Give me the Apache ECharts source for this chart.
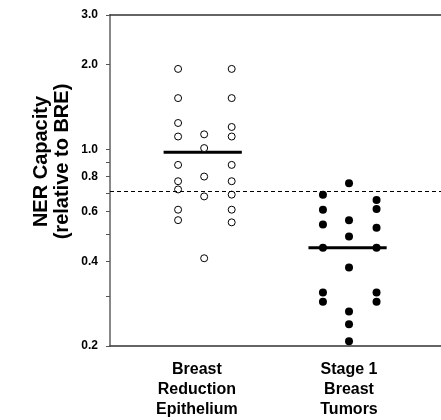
<!DOCTYPE html>
<html>
<head>
<meta charset="utf-8">
<script src="https://cdn.jsdelivr.net/npm/echarts@6/dist/echarts.min.js"></script>
<style>
  html, body { margin: 0; padding: 0; background: #fff; }
  #main { width: 441px; height: 420px; }
</style>
</head>
<body>
<div id="main"></div>
<script>
// group names (x axis)
var groups = ['Breast\nReduction\nEpithelium', 'Stage 1\nBreast\nTumors'];
var groupLabelPos = [0.95, 2.0];

// NER capacity values, read column by column
var breLeft  = [1.93, 1.52, 1.24, 1.11, 0.88, 0.77, 0.72, 0.61, 0.56];
var breMid   = [1.13, 1.01, 0.80, 0.68, 0.41];
var breRight = [1.93, 1.52, 1.20, 1.11, 0.88, 0.77, 0.69, 0.61, 0.55];

var tumLeft  = [0.69, 0.61, 0.54, 0.447, 0.31, 0.287];
var tumMid   = [0.757, 0.559, 0.49, 0.38, 0.265, 0.239, 0.208];
var tumRight = [0.661, 0.614, 0.526, 0.447, 0.31, 0.287];

var medians = [0.977, 0.447];
var cutoff = 0.71;

// y ticks
var yLabels = [0.2, 0.4, 0.6, 0.8, 1.0, 2.0, 3.0];
var yTicks = [0.2, 0.3, 0.4, 0.5, 0.6, 0.7, 0.8, 0.9, 1.0, 2.0, 3.0];

// column offsets around each group centre
var colOffset = [-0.18, 0, 0.19];

function pts(center, offset, vals) {
  return vals.map(function (v) { return [center + offset, v]; });
}

var openStyle = { color: '#fff', borderColor: '#000', borderWidth: 1, opacity: 1 };
var fillStyle = { color: '#000', opacity: 1 };

var myChart = echarts.init(document.getElementById('main'));

var option = {
  animation: false,
  grid: { left: 110, right: 0, top: 15, bottom: 73 },
  xAxis: [
    {
      type: 'value',
      min: 0.35,
      max: 2.635,
      splitLine: { show: false },
      axisLine: { show: true, lineStyle: { color: '#333', width: 1.5 } },
      axisTick: { show: false },
      axisLabel: {
        customValues: groupLabelPos,
        margin: 14,
        fontFamily: 'Liberation Sans',
        fontWeight: 'bold',
        fontSize: 16,
        lineHeight: 20,
        color: '#000',
        formatter: function (v) {
          return v < 1.5 ? groups[0] : groups[1];
        }
      }
    },
    {
      type: 'value',
      position: 'top',
      min: 0.35,
      max: 2.635,
      splitLine: { show: false },
      axisLine: { show: true, onZero: false, lineStyle: { color: '#333', width: 1.5 } },
      axisTick: { show: false },
      axisLabel: { show: false }
    }
  ],
  yAxis: {
    type: 'log',
    min: 0.2,
    max: 3,
    splitLine: { show: false },
    axisLine: { show: true, lineStyle: { color: '#888', width: 2 } },
    axisTick: { show: true, inside: false, length: 4, customValues: yTicks, lineStyle: { color: '#555' } },
    axisLabel: {
      customValues: yLabels,
      margin: 12,
      fontFamily: 'Liberation Sans',
      fontWeight: 'bold',
      fontSize: 12,
      color: '#000',
      formatter: function (v) { return Number(v).toFixed(1); }
    },
    name: 'NER Capacity\n(relative to BRE)',
    nameLocation: 'middle',
    nameGap: 37,
    nameMoveOverlap: false,
    nameTextStyle: {
      fontFamily: 'Liberation Sans',
      fontWeight: 'bold',
      fontSize: 20,
      lineHeight: 21,
      color: '#000',
      padding: [0, 0, 0, 38]
    }
  },
  series: [
    { type: 'scatter', symbolSize: 7, itemStyle: openStyle, data: pts(1, colOffset[0], breLeft) },
    { type: 'scatter', symbolSize: 7, itemStyle: openStyle, data: pts(1, colOffset[1], breMid) },
    { type: 'scatter', symbolSize: 7, itemStyle: openStyle, data: pts(1, colOffset[2], breRight) },
    { type: 'scatter', symbolSize: 8, itemStyle: fillStyle, data: pts(2, colOffset[0], tumLeft) },
    { type: 'scatter', symbolSize: 8, itemStyle: fillStyle, data: pts(2, colOffset[1], tumMid) },
    { type: 'scatter', symbolSize: 8, itemStyle: fillStyle, data: pts(2, colOffset[2], tumRight) },
    // median bars
    {
      type: 'line', showSymbol: false, z: 1,
      lineStyle: { color: '#000', width: 3 },
      data: [[1 - 0.28, medians[0]], [1 + 0.26, medians[0]]]
    },
    {
      type: 'line', showSymbol: false, z: 1,
      lineStyle: { color: '#000', width: 3 },
      data: [[2 - 0.28, medians[1]], [2 + 0.26, medians[1]]],
      // dashed cut-off line
      markLine: {
        silent: true,
        symbol: 'none',
        label: { show: false },
        lineStyle: { color: '#000', type: [4, 3], width: 1 },
        data: [{ yAxis: cutoff }]
      }
    }
  ]
};

myChart.setOption(option);
</script>
</body>
</html>
